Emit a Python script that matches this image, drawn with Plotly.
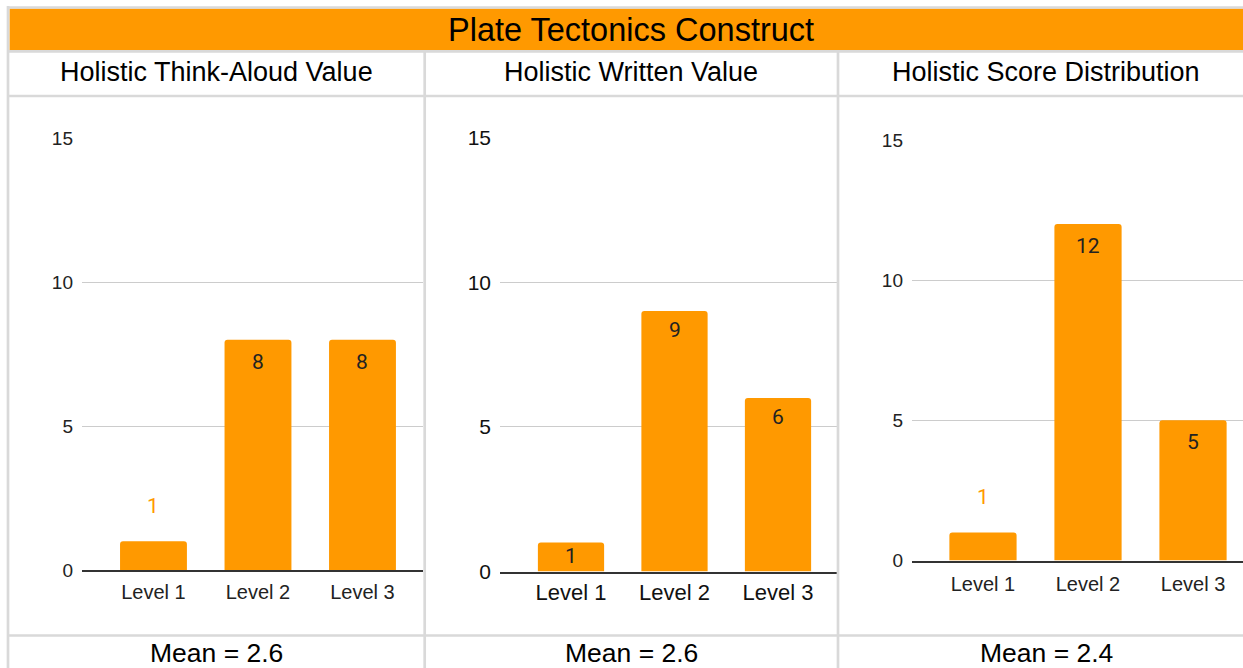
import plotly.graph_objects as go

# ---------------- data ----------------
categories = ["Level 1", "Level 2", "Level 3"]
think_aloud_counts = [1, 8, 8]
written_counts = [1, 9, 6]
score_dist_counts = [1, 12, 5]
panel_titles = ["Holistic Think-Aloud Value", "Holistic Written Value", "Holistic Score Distribution"]
mean_labels = ["Mean = 2.6", "Mean = 2.6", "Mean = 2.4"]
main_title = "Plate Tectonics Construct"
y_tick_values = [0, 5, 10, 15]
label_modes = [["above", "inside", "inside"],
               ["inside", "inside", "inside"],
               ["above", "inside", "inside"]]

series = [think_aloud_counts, written_counts, score_dist_counts]

# ---------------- layout geometry (pixels) ----------------
W, H = 1243, 668
ORANGE = "#ff9900"
GRID = "#d9d9d9"


def px_x(v):
    return v / W


def px_y(v):
    return 1 - v / H


# plot area per panel: x0, x1, y_zero, y_top(15), x range, tick font size, label shifts
panels = [
    dict(x0=82, x1=423, yz=570, yt=138.5, xr=[-0.684, 2.579], fs=19, cfs=20, tc="#222222",
         cso=3, ins=22, out=35),
    dict(x0=500, x1=837, yz=571.5, yt=137.5, xr=[-0.686, 2.570], fs=21, cfs=22, tc="#111111",
         cso=0, ins=19, out=35),
    dict(x0=912, x1=1243, yz=560.5, yt=140, xr=[-0.676, 2.476], fs=19, cfs=20, tc="#222222",
         cso=5, ins=22, out=35),
]

fig = go.Figure()
annotations = []

for i, (vals, p) in enumerate(zip(series, panels)):
    n = "" if i == 0 else str(i + 1)
    fig.add_trace(go.Bar(
        x=categories, y=vals,
        marker=dict(color=ORANGE, line=dict(width=0)),
        width=0.64,
        xaxis="x" + n, yaxis="y" + n,
        hoverinfo="x+y", showlegend=False,
    ))
    fig.layout["xaxis" + n] = dict(
        domain=[px_x(p["x0"]), px_x(p["x1"])],
        range=p["xr"], type="category",
        showline=True, linecolor="#333333", linewidth=1.5,
        showgrid=False, zeroline=False, ticks="",
        tickfont=dict(family="Liberation Sans, Arial, sans-serif", size=p["cfs"], color=p["tc"]),
        ticklabelstandoff=p["cso"],
        anchor="y" + n, fixedrange=True, automargin=False,
    )
    fig.layout["yaxis" + n] = dict(
        domain=[px_y(p["yz"]), px_y(p["yt"])],
        range=[0, 15], tickvals=y_tick_values,
        showgrid=True, gridcolor="#cccccc", gridwidth=1,
        zeroline=False, showline=False, ticks="",
        tickfont=dict(family="Liberation Sans, Arial, sans-serif", size=p["fs"], color=p["tc"]),
        ticklabelstandoff=8,
        anchor="x" + n, fixedrange=True, automargin=False,
    )
    px_per_unit = (p["yz"] - p["yt"]) / 15.0
    for cat, v, mode in zip(categories, vals, label_modes[i]):
        if mode == "above":
            shift = p["out"]
        else:
            shift = -min(p["ins"], v * px_per_unit / 2 - 1.5)
        annotations.append(dict(
            x=cat, y=v, xref="x" + n, yref="y" + n,
            text=str(v), showarrow=False,
            yanchor="middle", xanchor="center",
            yshift=shift,
            font=dict(family="Roboto, sans-serif", size=21,
                      color=ORANGE if mode == "above" else "#222222"),
        ))

# table texts
annotations.append(dict(
    x=px_x(631), y=px_y(30), xref="paper", yref="paper", text=main_title,
    showarrow=False, xanchor="center", yanchor="middle",
    font=dict(family="Liberation Sans, Arial, sans-serif", size=32.5, color="#000000"),
))
col_centers = [216, 631, 1046]
for cx, t, m in zip(col_centers, panel_titles, mean_labels):
    annotations.append(dict(
        x=px_x(cx), y=px_y(72), xref="paper", yref="paper", text=t,
        showarrow=False, xanchor="center", yanchor="middle",
        font=dict(family="Liberation Sans, Arial, sans-serif", size=27, color="#000000"),
    ))
    annotations.append(dict(
        x=px_x(cx), y=px_y(652.5), xref="paper", yref="paper", text=m,
        showarrow=False, xanchor="center", yanchor="middle", borderpad=0,
        font=dict(family="Liberation Sans, Arial, sans-serif", size=26.5, color="#000000"),
    ))

# table grid shapes
shapes = [
    dict(type="rect", xref="paper", yref="paper", x0=px_x(9.5), x1=1.0,
         y0=px_y(50), y1=px_y(8.5), fillcolor=ORANGE, line=dict(width=0), layer="below"),
]


def hline(y, x0=7, x1=W):
    return dict(type="line", xref="paper", yref="paper", x0=px_x(x0), x1=px_x(x1),
                y0=px_y(y), y1=px_y(y), line=dict(color=GRID, width=2.7), layer="above")


def vline(x, y0, y1=H):
    return dict(type="line", xref="paper", yref="paper", x0=px_x(x), x1=px_x(x),
                y0=px_y(y0), y1=px_y(y1), line=dict(color=GRID, width=2.7), layer="above")


shapes += [hline(7.5), hline(51.3), hline(96), hline(635.5),
           vline(8, 6), vline(424.7, 51), vline(838, 51)]

fig.update_layout(
    width=W, height=H, margin=dict(l=0, r=0, t=0, b=0, pad=0, autoexpand=False),
    paper_bgcolor="white", plot_bgcolor="rgba(0,0,0,0)",
    barcornerradius=3,
    annotations=annotations, shapes=shapes,
    showlegend=False,
)

fig.write_html("out.html", config={"displayModeBar": False})
